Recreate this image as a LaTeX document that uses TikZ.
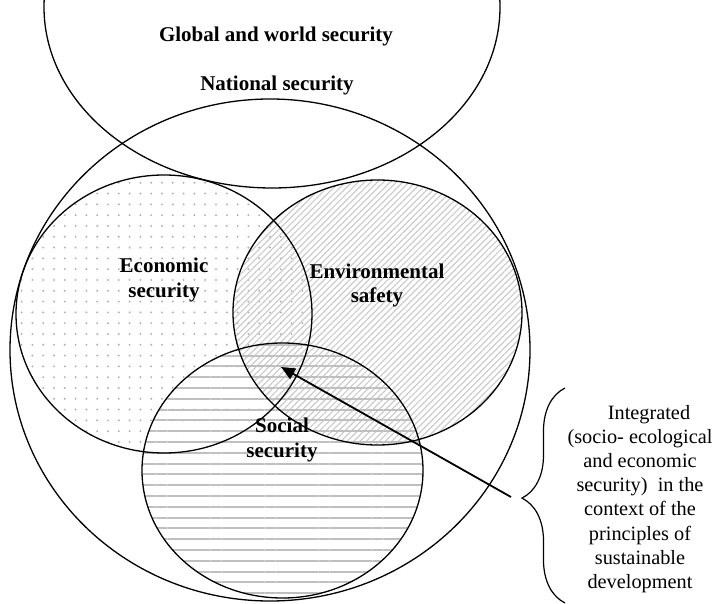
\documentclass[tikz,border=0pt]{standalone}
\usepackage{fontspec}
\setmainfont{Liberation Serif}
\usetikzlibrary{arrows.meta,patterns.meta,decorations.pathreplacing}
\tikzset{>=stealth}
\newcommand*{\bl}{\fontsize{21}{24.5}\selectfont\bfseries}
\newcommand*{\rt}{\fontsize{20.3}{24.2}\selectfont}

\begin{document}
\begin{tikzpicture}[x=1pt,y=-1pt,
  ring/.style={line width=1.3pt},
  lbl/.style={inner sep=0pt,align=center,font=\bl},
  dotfill/.style={pattern={Dots[radius=1.1pt,distance=10.8pt]},pattern color=gray!60},
  slashfill/.style={pattern={Lines[angle=45,distance=4.5pt,line width=1.2pt]},pattern color=gray!40},
  barfill/.style={pattern={Lines[angle=0,distance=10.8pt,line width=2pt]},pattern color=gray!50}]

\useasboundingbox (0,0) rectangle (718,604);
\clip (0,0) rectangle (718,604);

% Centres
\coordinate (G) at (272,7);      % global and world
\coordinate (N) at (270,350);    % national
\coordinate (E) at (164,314);    % economic
\coordinate (V) at (377.5,312.5);% environmental
\coordinate (S) at (282.5,470.5);% social

% Patterns
\path[dotfill] (E) ellipse [x radius=148pt, y radius=139pt];
\path[slashfill] (V) ellipse [x radius=144.5pt, y radius=132.5pt];
\path[barfill] (S) ellipse [x radius=140.5pt, y radius=127.5pt];

% Outlines
\draw[ring] (G) ellipse [x radius=228pt, y radius=181pt];
\draw[ring] (N) ellipse [x radius=260pt, y radius=251pt];
\draw[ring] (E) ellipse [x radius=148pt, y radius=139pt];
\draw[ring] (V) ellipse [x radius=144.5pt, y radius=132.5pt];
\draw[ring] (S) ellipse [x radius=140.5pt, y radius=127.5pt];

% Labels
\node[lbl] (global) at (276,36.5) {Global and world security};
\node[lbl] (national) at (277,85.5) {National security};
\node[lbl] (econ) at (164,280) {Economic\\security};
\node[lbl] (envir) at (377,285.5) {Environmental\\safety};
\node[lbl] (social) at (282,440) {Social\\security};

% Brace and note
\coordinate (bracebot) at (565,603);
\coordinate (bracetop) at (565,388);
\draw[line width=1.2pt,decorate,decoration={brace,amplitude=43pt,aspect=0.488}]
  (bracebot) -- (bracetop);
\node[inner sep=0pt,align=center,font=\rt] (note) at (640,499)
  {\hspace*{18pt}Integrated\\(socio- ecological\\and economic\\security)\ \ in the\\context of the\\principles of\\sustainable\\development};

% Arrow
\coordinate (tail) at (511,497);
\coordinate (core) at (281,367);
\draw[line width=1.8pt,-{Triangle[length=14pt,width=12pt]}] (tail) -- (core);
\end{tikzpicture}
\end{document}
